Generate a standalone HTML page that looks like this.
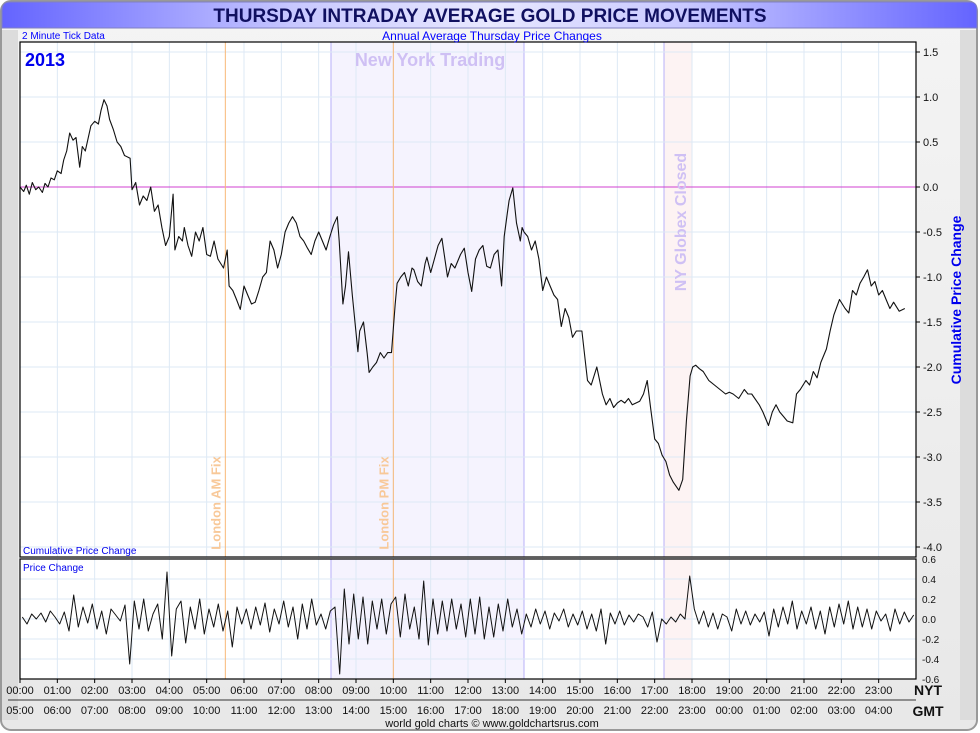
<!DOCTYPE html>
<html><head><meta charset="utf-8"><style>
html,body{margin:0;padding:0;background:#fff;}
svg{display:block;font-family:"Liberation Sans",sans-serif;}
</style></head><body>
<svg id="chart" width="980" height="733" viewBox="0 0 980 733">
<defs>
<linearGradient id="tg" x1="0" x2="1" y1="0" y2="0">
<stop offset="0" stop-color="#6464ff"/><stop offset="0.3" stop-color="#c8c8ff"/><stop offset="0.5" stop-color="#e8e8ff"/><stop offset="0.7" stop-color="#c8c8ff"/><stop offset="1" stop-color="#6464ff"/></linearGradient>
<linearGradient id="bg" x1="0" x2="0" y1="0" y2="1"><stop offset="0" stop-color="#f4f4f4"/><stop offset="1" stop-color="#e8e8e8"/></linearGradient>
</defs>
<rect x="1" y="1" width="976" height="729" rx="10" fill="url(#bg)" stroke="#999" stroke-width="2"/>
<rect x="2" y="30" width="16" height="690" fill="#dcdcdc"/>
<rect x="960" y="30" width="16" height="690" fill="#dcdcdc"/>
<path d="M2 28 V10 Q2 2 10 2 H970 Q977 2 977 10 V28 Z" fill="url(#tg)" stroke="#8080c0"/>
<text x="490" y="22" text-anchor="middle" font-size="19" font-weight="bold" fill="#101060">THURSDAY INTRADAY AVERAGE GOLD PRICE MOVEMENTS</text>
<text x="22" y="39" font-size="10" fill="#0000ff">2 Minute Tick Data</text>
<g id="main"></g>
<g id="lower"></g>
<g id="axes"></g>
<text x="492" y="40" text-anchor="middle" font-size="12" fill="#0000ff">Annual Average Thursday Price Changes</text>
<text transform="translate(961,300) rotate(-90)" text-anchor="middle" font-size="14" font-weight="bold" fill="#0000ee">Cumulative Price Change</text>
<text x="492" y="727" text-anchor="middle" font-size="11" fill="#111">world gold charts © www.goldchartsrus.com</text>
</svg>
<script>
const cumHours=[0,0.1,0.17,0.25,0.33,0.42,0.5,0.6,0.67,0.75,0.83,0.92,1.0,1.1,1.17,1.25,1.33,1.42,1.5,1.6,1.67,1.75,1.83,1.9,2.0,2.1,2.17,2.25,2.33,2.4,2.5,2.6,2.7,2.8,2.95,3.0,3.1,3.2,3.3,3.4,3.5,3.6,3.7,3.8,3.9,4.0,4.1,4.15,4.25,4.35,4.4,4.5,4.6,4.7,4.8,4.9,5.0,5.1,5.2,5.3,5.45,5.55,5.6,5.7,5.8,5.9,6.0,6.1,6.2,6.3,6.4,6.5,6.6,6.7,6.8,6.9,7.0,7.1,7.2,7.3,7.4,7.5,7.6,7.7,7.8,7.9,8.0,8.1,8.2,8.3,8.4,8.5,8.55,8.65,8.72,8.8,8.9,9.05,9.1,9.2,9.3,9.35,9.45,9.55,9.65,9.75,9.85,9.95,10.05,10.1,10.2,10.3,10.4,10.5,10.55,10.65,10.75,10.85,10.9,11.0,11.1,11.2,11.3,11.45,11.55,11.65,11.8,11.9,12.0,12.1,12.2,12.3,12.4,12.5,12.6,12.7,12.8,12.9,12.97,13.05,13.1,13.2,13.3,13.4,13.45,13.5,13.6,13.7,13.8,13.9,14.0,14.1,14.2,14.3,14.4,14.5,14.6,14.7,14.8,14.9,15.05,15.2,15.3,15.45,15.5,15.6,15.7,15.8,15.9,16.0,16.1,16.2,16.3,16.4,16.5,16.6,16.7,16.8,16.9,17.0,17.1,17.2,17.3,17.4,17.5,17.65,17.75,17.85,17.95,18.02,18.1,18.2,18.3,18.45,18.6,18.75,18.9,19.0,19.1,19.25,19.4,19.5,19.6,19.8,19.9,20.05,20.15,20.25,20.35,20.45,20.55,20.7,20.8,20.9,21.05,21.15,21.25,21.35,21.45,21.6,21.7,21.8,21.95,22.1,22.2,22.3,22.4,22.5,22.6,22.7,22.8,22.9,23.0,23.1,23.2,23.3,23.4,23.55,23.7,23.85,24.0];
const cumValues=[0.0,-0.05,0.02,-0.08,0.05,-0.03,0.0,-0.06,0.04,0.0,0.1,0.08,0.18,0.15,0.3,0.4,0.6,0.52,0.55,0.22,0.45,0.4,0.55,0.68,0.73,0.7,0.85,0.97,0.9,0.75,0.64,0.5,0.45,0.35,0.32,-0.03,0.05,-0.2,-0.1,-0.15,0.0,-0.27,-0.2,-0.45,-0.65,-0.55,-0.08,-0.7,-0.55,-0.6,-0.45,-0.65,-0.77,-0.5,-0.6,-0.45,-0.75,-0.77,-0.6,-0.8,-0.9,-0.7,-1.1,-1.15,-1.25,-1.36,-1.1,-1.2,-1.3,-1.28,-1.15,-1.0,-0.95,-0.6,-0.7,-0.9,-0.75,-0.5,-0.4,-0.33,-0.4,-0.55,-0.6,-0.68,-0.75,-0.6,-0.5,-0.6,-0.7,-0.55,-0.42,-0.33,-0.6,-1.3,-1.1,-0.72,-1.2,-1.83,-1.6,-1.5,-1.85,-2.06,-2.0,-1.95,-1.84,-1.9,-1.84,-1.84,-1.3,-1.07,-1.0,-0.95,-1.1,-0.9,-0.92,-1.05,-1.1,-0.85,-0.78,-0.95,-0.8,-0.65,-0.57,-1.0,-0.85,-0.9,-0.75,-0.68,-0.95,-1.16,-0.8,-0.7,-0.65,-0.88,-0.9,-0.75,-0.7,-1.1,-0.55,-0.3,-0.15,-0.01,-0.4,-0.6,-0.45,-0.5,-0.55,-0.7,-0.6,-0.8,-1.15,-1.0,-1.1,-1.2,-1.25,-1.55,-1.35,-1.45,-1.67,-1.6,-1.6,-2.15,-2.2,-2.0,-2.1,-2.3,-2.42,-2.35,-2.45,-2.4,-2.37,-2.4,-2.35,-2.42,-2.4,-2.38,-2.3,-2.15,-2.48,-2.8,-2.85,-2.98,-3.05,-3.2,-3.28,-3.37,-3.25,-2.6,-2.1,-2.0,-1.98,-2.02,-2.05,-2.15,-2.2,-2.25,-2.3,-2.28,-2.3,-2.35,-2.25,-2.3,-2.3,-2.42,-2.5,-2.65,-2.5,-2.42,-2.5,-2.55,-2.6,-2.62,-2.3,-2.25,-2.15,-2.2,-2.05,-2.12,-1.95,-1.8,-1.6,-1.42,-1.25,-1.35,-1.4,-1.15,-1.2,-1.07,-1.0,-0.92,-1.1,-1.05,-1.2,-1.15,-1.25,-1.35,-1.28,-1.38,-1.35];
const changeValues=[0.02,-0.05,0.05,0.0,0.06,-0.03,0.08,0.02,-0.05,0.07,-0.12,0.24,-0.08,0.12,-0.04,0.15,-0.1,0.08,-0.15,0.1,0.04,-0.02,0.14,-0.45,
0.18,-0.1,0.2,-0.12,0.05,0.15,-0.2,0.47,-0.37,0.1,0.18,-0.24,0.12,-0.1,0.2,-0.15,0.1,-0.08,0.15,-0.12,0.08,-0.28,0.12,-0.05,
0.1,-0.1,0.12,-0.06,0.16,-0.13,0.1,-0.05,0.18,-0.08,0.12,-0.2,0.15,-0.1,0.2,-0.06,0.05,-0.1,0.08,0.12,-0.55,0.3,-0.25,0.25,
-0.2,0.22,-0.25,0.18,-0.1,0.2,-0.15,0.15,0.22,-0.18,0.25,-0.1,0.12,-0.2,0.38,-0.26,0.2,-0.15,0.18,-0.12,0.2,-0.1,0.15,-0.18,
0.2,-0.15,0.22,-0.2,0.12,-0.18,0.15,-0.12,0.2,-0.08,0.1,-0.15,0.05,-0.08,0.1,-0.05,0.08,-0.1,0.06,-0.02,0.1,-0.08,0.05,-0.06,
0.08,-0.1,0.05,-0.12,0.1,-0.25,0.06,-0.05,0.08,-0.06,0.04,-0.03,0.05,0.02,-0.08,0.07,-0.23,0.0,-0.05,0.02,-0.03,0.05,0.0,0.43,
0.1,-0.05,0.08,-0.08,0.06,-0.1,0.05,0.02,-0.12,0.1,-0.05,0.08,-0.06,0.05,-0.03,0.07,-0.17,0.1,-0.08,0.12,-0.05,0.18,-0.1,0.08,
-0.05,0.12,-0.1,0.08,-0.15,0.12,-0.08,0.15,-0.05,0.18,-0.1,0.12,-0.08,0.1,-0.1,0.08,-0.02,0.05,-0.12,0.1,-0.05,0.07,-0.03,0.04];
const mainTicks=[1.5,1.0,0.5,0.0,-0.5,-1.0,-1.5,-2.0,-2.5,-3.0,-3.5,-4.0];
const lowerTicks=[0.6,0.4,0.2,0.0,-0.2,-0.4,-0.6];
const nytLabels=["00:00","01:00","02:00","03:00","04:00","05:00","06:00","07:00","08:00","09:00","10:00","11:00","12:00","13:00","14:00","15:00","16:00","17:00","18:00","19:00","20:00","21:00","22:00","23:00"];
const gmtLabels=["05:00","06:00","07:00","08:00","09:00","10:00","11:00","12:00","13:00","14:00","15:00","16:00","17:00","18:00","19:00","20:00","21:00","22:00","23:00","00:00","01:00","02:00","03:00","04:00"];

const NS="http://www.w3.org/2000/svg";
const L=20,R=916,MT=42,MB=557,LT=559,LB=679;
const xs=h=>L+(R-L)*h/24;
const ym=v=>187-v*90;
const yl=v=>619-v*100;
function mk(par,tag,attrs){const e=document.createElementNS(NS,tag);for(const k in attrs)e.setAttribute(k,attrs[k]);par.appendChild(e);return e;}
const main=document.getElementById('main'),lower=document.getElementById('lower'),axes=document.getElementById('axes');

let e=mk(main,'rect',{x:L,y:MT,width:R-L,height:MB-MT,fill:'#fff'});


e=mk(lower,'rect',{x:L,y:LT,width:R-L,height:LB-LT,fill:'#fff'});



[[main,MT,MB],[lower,LT,LB]].forEach(([g,t,b])=>{
 e=mk(g,'rect',{x:xs(8.33),y:t,width:xs(13.5)-xs(8.33),height:b-t,fill:'#f5f3fe',stroke:'#b8b0f8','stroke-width':1});
 
 
 e=mk(g,'rect',{x:xs(17.25),y:t,width:xs(18)-xs(17.25),height:b-t,fill:'#fdf3f3',stroke:'#b8b0f8','stroke-width':1});
 
 
});
for(let h=1;h<24;h++){
 [[main,MT,MB],[lower,LT,LB]].forEach(([g,t,b])=>{
  e=mk(g,'line',{x1:xs(h),x2:xs(h),y1:t,y2:b,stroke:'#dde9f5','stroke-width':1});
  
  
 });
}
mainTicks.forEach(v=>{
 e=mk(main,'line',{x1:L,x2:R,y1:ym(v),y2:ym(v),stroke:v===0?'#d040d0':'#dde9f5','stroke-width':1});
 
 
 e=mk(axes,'line',{x1:R,x2:R+4,y1:ym(v),y2:ym(v),stroke:'#000'});
 
 
 e=mk(axes,'text',{x:R+7,y:ym(v)+4,'font-size':11,fill:'#111'});
 e.textContent=v.toFixed(1);
 
 
});
lowerTicks.forEach(v=>{
 e=mk(lower,'line',{x1:L,x2:R,y1:yl(v),y2:yl(v),stroke:'#dde9f5','stroke-width':1});
 
 
 e=mk(axes,'text',{x:R+6,y:yl(v)+4,'font-size':10,fill:'#111'});
 e.textContent=v.toFixed(1);
 
 
});
[[5.5,'London AM Fix','london-am-fix'],[10.0,'London PM Fix','london-pm-fix']].forEach(([h,t,n])=>{
 [[main,MT,MB],[lower,LT,LB]].forEach(([g,a,b])=>{
  e=mk(g,'line',{x1:xs(h),x2:xs(h),y1:a,y2:b,stroke:'#f8b878','stroke-width':1});
  
  
 });
 e=mk(main,'text',{transform:`translate(${xs(h)-5},503) rotate(-90)`,'text-anchor':'middle','font-size':13,'font-weight':'bold',fill:'#f8c898'});
 e.textContent=t;
 
 
});
e=mk(main,'text',{x:430,y:66,'text-anchor':'middle','font-size':18,'font-weight':'bold',fill:'#cfc0f4'});
e.textContent='New York Trading';


e=mk(main,'text',{transform:`translate(686,222) rotate(-90)`,'text-anchor':'middle','font-size':16,'font-weight':'bold',fill:'#cfc0f4'});
e.textContent='NY Globex Closed';


e=mk(main,'text',{x:25,y:66,'font-size':18,'font-weight':'bold',fill:'#0000ee'});
e.textContent='2013';


e=mk(main,'text',{x:23,y:554,'font-size':10,fill:'#0000ee'});
e.textContent='Cumulative Price Change';


e=mk(lower,'text',{x:23,y:571,'font-size':10,fill:'#0000ee'});
e.textContent='Price Change';



let d=cumHours.map((h,i)=>(i?'L':'M')+xs(h).toFixed(1)+' '+ym(cumValues[i]).toFixed(1)).join(' ');
e=mk(main,'path',{d:d,fill:'none',stroke:'#111','stroke-width':1.1,'stroke-linejoin':'round'});


const step=24/changeValues.length;
d=changeValues.map((v,i)=>(i?'L':'M')+xs(i*step+step/2).toFixed(1)+' '+yl(v).toFixed(1)).join(' ');
e=mk(lower,'path',{d:d,fill:'none',stroke:'#111','stroke-width':1,'stroke-linejoin':'round'});



e=mk(axes,'rect',{x:L,y:MT,width:R-L,height:MB-MT,fill:'none',stroke:'#000','stroke-width':1.2});


e=mk(axes,'rect',{x:L,y:LT,width:R-L,height:LB-LT,fill:'none',stroke:'#000','stroke-width':1.2});


e=mk(axes,'line',{x1:8,x2:R,y1:700,y2:700,stroke:'#333','stroke-width':1});


nytLabels.forEach((t,i)=>{
 e=mk(axes,'line',{x1:xs(i),x2:xs(i),y1:LB,y2:LB+4,stroke:'#000'});
 
 
 e=mk(axes,'text',{x:xs(i),y:694,'text-anchor':'middle','font-size':11,fill:'#111'});
 e.textContent=t;
 
 
});
gmtLabels.forEach((t,i)=>{
 e=mk(axes,'text',{x:xs(i),y:714,'text-anchor':'middle','font-size':11,fill:'#111'});
 e.textContent=t;
 
 
});
e=mk(axes,'text',{x:928,y:695,'text-anchor':'middle','font-size':14,'font-weight':'bold',fill:'#111'});
e.textContent='NYT';


e=mk(axes,'text',{x:928,y:716,'text-anchor':'middle','font-size':14,'font-weight':'bold',fill:'#111'});
e.textContent='GMT';


</script>
</body></html>
